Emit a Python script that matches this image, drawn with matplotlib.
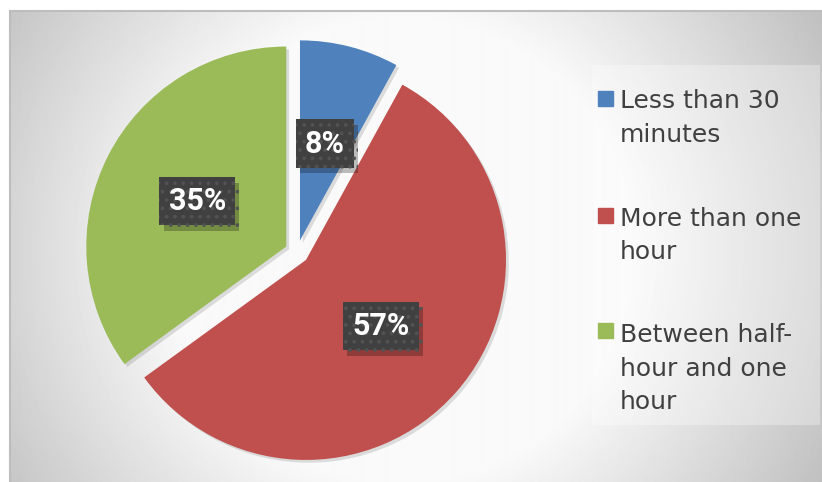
import numpy as np
import matplotlib
matplotlib.use('Agg')
from matplotlib import pyplot as plt
from matplotlib import patheffects as pe
from matplotlib.patches import Rectangle

# data
labels = ['Less than 30\nminutes', 'More than one\nhour', 'Between half-\nhour and one\nhour']
shares = [8, 57, 35]
colors = ['#4f81bd', '#c0504d', '#9bbb59']

plt.rcParams['hatch.linewidth'] = 1.5

W, H = 822, 482
fig = plt.figure(figsize=(W / 100, H / 100), dpi=100)
ax = fig.add_axes([0, 0, 1, 1])

# radial gradient background of the chart area
yy, xx = np.mgrid[11:H, 10:W]
d = np.hypot(xx - 400, yy - 250)
g = np.clip(250 - 0.23 * (d - 230), 192, 250) / 255
ax.imshow(g, cmap='gray', vmin=0, vmax=1, extent=[10, W, 0, H - 11],
          origin='upper', zorder=0, interpolation='bilinear')
ax.add_patch(Rectangle((10, -2), W, H - 9, fill=False, edgecolor='#bdbdbd', lw=1.5, zorder=1))

# legend panel
ax.add_patch(Rectangle((592, H - 425), 228, 360, facecolor='white', alpha=0.3,
                       edgecolor='none', zorder=1))

# pie
wedges, texts, autotexts = ax.pie(
    shares,
    colors=colors,
    startangle=90,
    counterclock=False,
    center=(297, 230),
    radius=200,
    explode=[12] * 3,
    autopct='%d%%',
    pctdistance=0.5,
    textprops={'color': 'white', 'fontsize': 22, 'fontweight': 'bold', 'family': 'Roboto'},
)
for w in wedges:
    w.set_zorder(2)
    w.set_path_effects([pe.SimplePatchShadow(offset=(2, -2), shadow_rgbFace='black', alpha=0.12),
                        pe.Normal()])
for t in autotexts:
    t.set_zorder(5)
    t.set_bbox(dict(boxstyle='square,pad=0.3', facecolor='#404040', edgecolor='#525252',
                    linewidth=0, hatch='..'))
    t.get_bbox_patch().set_path_effects([
        pe.SimplePatchShadow(offset=(3, -4), shadow_rgbFace='black', alpha=0.25),
        pe.Normal()])

# legend
first_base = [107, 224, 339]
for lab, col, yb in zip(labels, colors, first_base):
    n = lab.count('\n')
    ax.add_patch(Rectangle((598, H - yb + 1), 15, 15, color=col, zorder=3))
    ax.text(620, H - yb - n * 35, lab, fontsize=18, color='#404040', va='baseline',
            ha='left', linespacing=1.5, family='DejaVu Sans', zorder=3)

ax.set_xlim(0, W)
ax.set_ylim(0, H)
ax.set_aspect('equal')
ax.axis('off')

plt.savefig('out.png', dpi=100, facecolor='white')
